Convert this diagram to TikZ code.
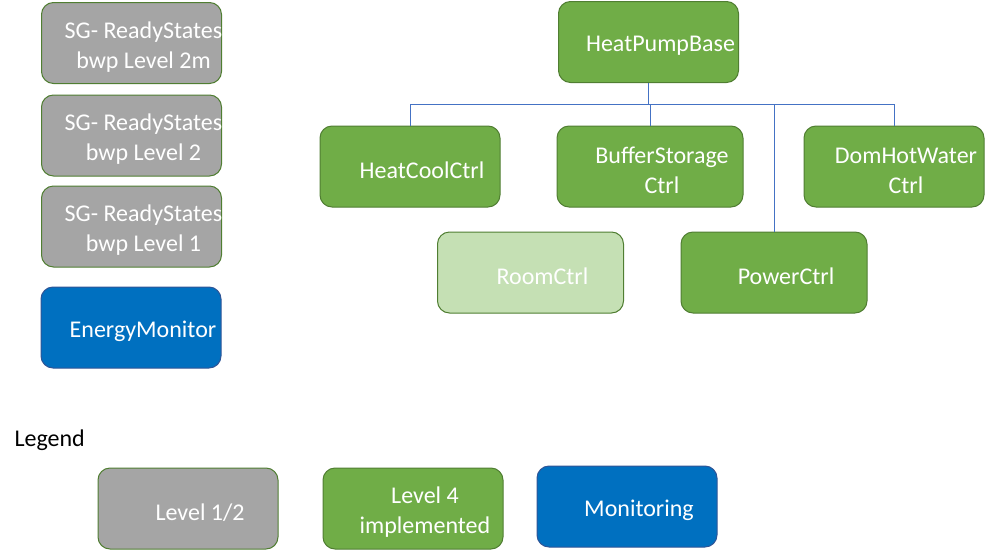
\documentclass[tikz,border=0pt]{standalone}
\usepackage{fontspec}
\setmainfont{Carlito}
\usepackage{tikz}

\definecolor{greyfill}{HTML}{A5A5A5}
\definecolor{greenfill}{HTML}{70AD47}
\definecolor{palegreen}{HTML}{C5E0B4}
\definecolor{bluefill}{HTML}{0070C0}
\definecolor{greenline}{HTML}{507E32}
\definecolor{blueline}{HTML}{2F5597}
\definecolor{linkblue}{HTML}{4472C4}

\begin{document}
\begin{tikzpicture}[x=1pt, y=-1pt,
    box/.style={draw=greenline, line width=1pt, rounded corners=12pt,
        minimum width=180pt, minimum height=81pt, inner sep=0pt},
    txt/.style={text=white, align=center, xshift=12pt, yshift=-4pt,
        font=\fontsize{24}{30}\selectfont},
    greybox/.style={box, fill=greyfill},
    greenbox/.style={box, fill=greenfill},
    roombox/.style={box, fill=palegreen},
    monbox/.style={box, fill=bluefill, draw=blueline},
    link/.style={draw=linkblue, line width=1pt}]
    \useasboundingbox (0,0) rectangle (997,552);

    % left column
    \node[greybox, label={[txt]center:SG- ReadyStates\\bwp Level 2m}] (sg2m) at (131.5,43) {};
    \node[greybox, label={[txt]center:SG- ReadyStates\\bwp Level 2}] (sg2) at (131.5,135.5) {};
    \node[greybox, label={[txt]center:SG- ReadyStates\\bwp Level 1}] (sg1) at (131.5,226.5) {};
    \node[monbox, label={[txt]center:EnergyMonitor}] (enmon) at (131,327.5) {};

    % heat pump tree
    \node[greenbox, label={[txt]center:HeatPumpBase}] (hpbase) at (648.5,42) {};
    \node[greenbox, label={[txt]center:HeatCoolCtrl}] (heatcool) at (410,166.5) {};
    \node[greenbox, minimum width=186pt, label={[txt]center:BufferStorage\\Ctrl}] (buffer) at (650,166.5) {};
    \node[greenbox, label={[txt]center:DomHotWater\\Ctrl}] (domhot) at (894,166.5) {};
    \node[roombox, minimum width=186pt, label={[txt]center:RoomCtrl}] (room) at (530.5,272.5) {};
    \node[greenbox, minimum width=186pt, label={[txt]center:PowerCtrl}] (power) at (774,272.5) {};

    \draw[link] (hpbase.south) -- ++(0,21) -| (heatcool.north);
    \draw[link] (hpbase.south) -- ++(0,21) -| (buffer.north);
    \draw[link] (hpbase.south) -- ++(0,21) -| (domhot.north);
    \draw[link] (hpbase.south) -- ++(0,21) -| (power.north);

    % legend
    \node[anchor=west, font=\fontsize{24}{29}\selectfont] (legend) at (11,440) {Legend};
    \node[greybox, label={[txt]center:Level 1/2}] (lvlhalf) at (188,508.5) {};
    \node[greenbox, label={[txt]center:Level 4\\implemented}] (lvlfour) at (413,508.5) {};
    \node[monbox, label={[txt]center:Monitoring}] (monitor) at (627,506.5) {};
\end{tikzpicture}
\end{document}
